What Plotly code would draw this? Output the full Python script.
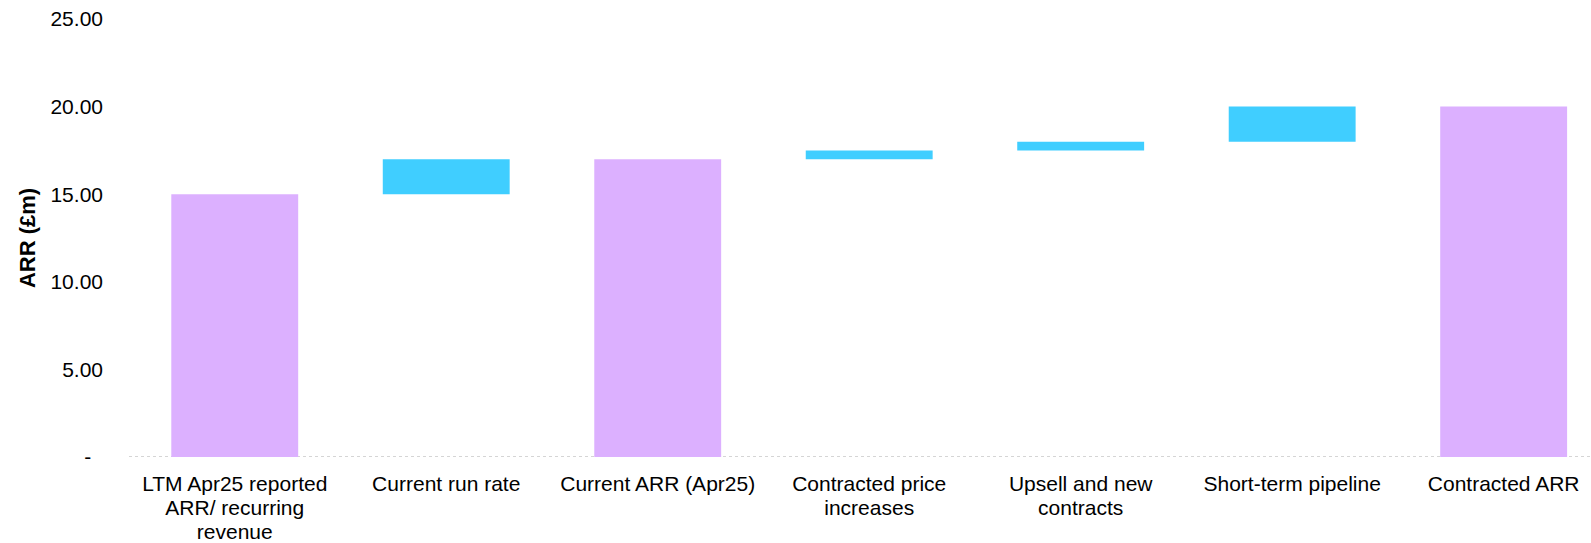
import plotly.graph_objects as go

# ---- data ----
category_lines = [
    ["LTM Apr25 reported", "ARR/ recurring", "revenue"],
    ["Current run rate"],
    ["Current ARR (Apr25)"],
    ["Contracted price", "increases"],
    ["Upsell and new", "contracts"],
    ["Short-term pipeline"],
    ["Contracted ARR"],
]
bar_start = [0.0, 15.0, 0.0, 17.0, 17.5, 18.0, 0.0]
bar_end = [15.0, 17.0, 17.0, 17.5, 18.0, 20.0, 20.0]
bar_kind = ["total", "step", "total", "step", "step", "step", "total"]

y_tickvals = [0, 5, 10, 15, 20, 25]
y_ticktext = ["-\u00a0\u00a0", "5.00", "10.00", "15.00", "20.00", "25.00"]

PURPLE = "#DCB0FF"
BLUE = "#40CEFF"
LABEL_PX = 21

categories = ["<br>".join(lines) for lines in category_lines]
cat_ticktext = [
    "<br>".join('<span style="font-size:%dpx">%s</span>' % (LABEL_PX, ln) for ln in lines)
    for lines in category_lines
]
heights = [e - s for s, e in zip(bar_start, bar_end)]
colors = [PURPLE if k == "total" else BLUE for k in bar_kind]

fig = go.Figure()
fig.add_trace(go.Bar(
    x=categories,
    y=heights,
    base=bar_start,
    marker=dict(color=colors, line=dict(width=0)),
    width=0.6,
    hoverinfo="skip",
    showlegend=False,
))

# dotted baseline at zero
fig.add_shape(type="line", xref="paper", yref="y", x0=0, x1=1, y0=0, y1=0,
              line=dict(color="#C8C8C8", width=1.5, dash="dot"), layer="below")

fig.update_layout(
    width=1591, height=543,
    margin=dict(l=129, r=0, t=19, b=83),
    paper_bgcolor="white", plot_bgcolor="white",
    font=dict(family="Liberation Sans, Arial, sans-serif", color="black"),
    xaxis=dict(
        range=[-0.5, 6.413],
        tickvals=categories, ticktext=cat_ticktext,
        showgrid=False, showline=False, zeroline=False,
        tickfont=dict(size=18.5),
        ticks="", ticklabelstandoff=14,
        ticklabeloverflow="allow",
    ),
    yaxis=dict(
        range=[0, 25],
        tickvals=y_tickvals, ticktext=y_ticktext,
        showgrid=False, zeroline=False, showline=False,
        tickfont=dict(size=21),
        ticks="", ticklabelstandoff=25,
        ticklabeloverflow="allow",
        title=dict(text="<b>ARR (£m)</b>", font=dict(size=22), standoff=8),
    ),
)

fig.write_html(
    "out.html",
    config={"displayModeBar": False},
    post_script="document.body.style.margin='0';document.documentElement.style.overflow='hidden';",
)
